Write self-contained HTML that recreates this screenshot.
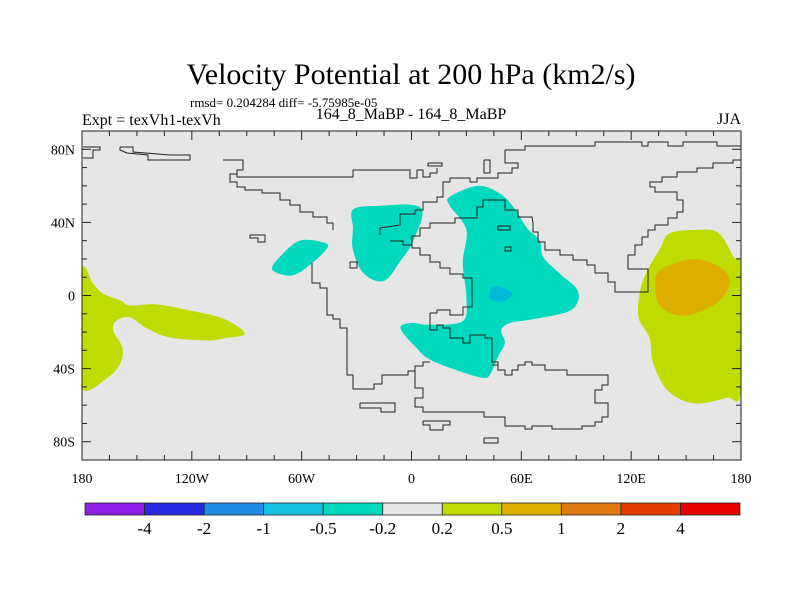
<!DOCTYPE html>
<html><head><meta charset="utf-8"><style>
body{margin:0;background:#fff;width:800px;height:600px;overflow:hidden;font-family:"Liberation Serif",serif}
svg{position:absolute;left:0;top:0}
</style></head><body>
<svg id="chart" width="800" height="600" xmlns="http://www.w3.org/2000/svg">
<text x="411" y="84" font-size="30" text-anchor="middle" font-family="Liberation Serif,serif">Velocity Potential at 200 hPa (km2/s)</text>
<text x="190" y="107" font-size="13" font-family="Liberation Serif,serif">rmsd= 0.204284 diff= -5.75985e-05</text>
<text x="82" y="125" font-size="16" font-family="Liberation Serif,serif">Expt = texVh1-texVh</text>
<text x="411" y="119" font-size="16" text-anchor="middle" font-family="Liberation Serif,serif">164_8_MaBP - 164_8_MaBP</text>
<text x="741" y="124" font-size="16" text-anchor="end" font-family="Liberation Serif,serif">JJA</text>
<rect x="82" y="131" width="659" height="329" fill="#e6e6e6"/>
<g id="fills"></g><g id="coast"></g><g id="axes"></g><g id="cbar"></g>
</svg>
<script>
// filled contour regions as [lon, lat] pairs
const tealMain=[[21,54],[36,60],[48,56],[56,48],[63,37],[70,30],[72,21],[81,12],[90,4],[91,-3],[85,-9],[66,-13],[54,-15],[49,-19],[51,-26],[47,-34],[43,-43],[39,-45],[25,-41],[10,-35],[3,-29],[-6,-18],[0,-15],[10,-16],[28,-14],[30,-1],[28,18],[30,36],[21,49]];
const tealMid=[[-32,47],[-19,49],[5,48],[1,30],[-6,19],[-15,8],[-26,12],[-32,25],[-32,37]];
const tealSmall=[[-61,30],[-48,29],[-46,26],[-54,18],[-65,11],[-76,14],[-72,21]];
const blueCore=[[45,5],[51,4],[55,1],[51,-3],[45,-3],[42,0]];
const yellowEast=[[141,34],[157,36],[168,34],[176,21],[180,14],[180,-52],[172,-56],[154,-59],[140,-52],[132,-37],[130,-23],[124,-12],[125,3],[129,14],[136,26]];
const orangeEast=[[136,14],[154,20],[169,15],[174,7],[167,-4],[150,-11],[137,-7],[133,4]];
const yellowWest=[[-180,15],[-174,6.6],[-168.5,1],[-159,-2.7],[-153.8,-5.5],[-139,-4.9],[-121,-8.2],[-103,-12.6],[-91,-20.8],[-103,-23.5],[-112,-24.6],[-132,-23],[-144.5,-18],[-153.8,-12],[-161,-13.7],[-163,-19],[-158,-28.4],[-159,-37],[-166,-44.9],[-180,-51],[-185,-20]];
const levels=["-4","-2","-1","-0.5","-0.2","0.2","0.5","1","2","4"];
const cbColors=["#8c1ee6","#2a2ae0","#1e8ce6","#14c2e0","#00d9bd","#e6e6e6","#bedc00","#e0b000","#e07a10","#e63c00","#e60000"];
const lonTicks=[-180,-120,-60,0,60,120,180];
const lonLabels=["180","120W","60W","0","60E","120E","180"];
const latTicks=[80,40,0,-40,-80];
const latLabels=["80N","40N","0","40S","80S"];

const X0=82,X1=741,Y0=131,Y1=460;
const xs=lon=>X0+(lon+180)/360*(X1-X0);
const ys=lat=>Y0+(90-lat)/180*(Y1-Y0);
const NS="http://www.w3.org/2000/svg";
function smooth(pts){const p=pts.map(d=>[xs(d[0]),ys(d[1])]);const n=p.length;let s=`M${p[0][0]},${p[0][1]}`;
 for(let i=0;i<n;i++){const a=p[(i-1+n)%n],b=p[i],c=p[(i+1)%n],d=p[(i+2)%n];
 s+=`C${b[0]+(c[0]-a[0])/6},${b[1]+(c[1]-a[1])/6} ${c[0]-(d[0]-b[0])/6},${c[1]-(d[1]-b[1])/6} ${c[0]},${c[1]}`;}return s+"Z";}
const fills=document.getElementById('fills');
function addFill(pts,col,name){const e=document.createElementNS(NS,'path');e.setAttribute('d',smooth(pts));e.setAttribute('fill',col);


fills.appendChild(e);}
const clip=document.createElementNS(NS,'clipPath');clip.id='mc';const cr=document.createElementNS(NS,'rect');
cr.setAttribute('x',X0);cr.setAttribute('y',Y0);cr.setAttribute('width',X1-X0);cr.setAttribute('height',Y1-Y0);clip.appendChild(cr);
document.getElementById('chart').appendChild(clip);fills.setAttribute('clip-path','url(#mc)');
addFill(yellowWest,"#bedc00","positive-region-west");
addFill(yellowEast,"#bedc00","positive-region-east");
addFill(orangeEast,"#ddb000","strong-positive-region-east");
addFill(tealMain,"#00d9bd","negative-region-africa");
addFill(tealMid,"#00d9bd","negative-region-central");
addFill(tealSmall,"#00d9bd","negative-region-small");
addFill(blueCore,"#00b9d9","strong-negative-core");

// basemap coastlines (pixel geometry, not data)
const coastLines=[
[[83,147],[100,147],[100,150],[93,150],[93,158],[83,158]],
[[120,147],[133,147],[133,152],[170,155],[190,155],[190,160],[148,160],[148,155],[127,153],[120,150],[120,147]],
[[223,160],[243,160],[243,170],[237,170],[237,174],[230,174],[230,182],[237,182],[237,187],[245,187],[245,190],[262,190],[262,193],[280,193],[280,200],[290,200],[290,205],[300,205],[300,212],[313,212],[313,217],[327,217],[327,223],[333,223],[333,230]],
[[237,174],[237,177],[353,177],[353,170],[410,170],[410,178],[417,178],[417,170],[423,170],[423,177],[430,177],[430,173],[437,173],[437,168]],
[[505,150],[525,150],[525,146],[595,146],[595,142],[642,142],[642,146],[648,146],[648,142],[668,142],[668,146],[683,146],[683,142],[717,142],[717,146],[741,146]],
[[505,150],[505,163],[518,163],[518,168],[512,168],[512,173],[498,173],[498,178],[477,178],[477,182],[470,182],[470,178],[450,178],[450,182],[443,182],[443,197],[437,197],[437,202],[423,202],[423,210],[415,210],[415,214],[400,214],[400,225],[380,228],[380,235]],
[[741,160],[733,160],[733,163],[713,163],[713,168],[697,168],[697,172],[677,172],[677,177],[662,177],[662,182],[650,182],[650,187],[655,187],[655,192],[677,192],[677,200],[683,200],[683,212],[677,212],[677,218],[668,218],[668,225],[655,225],[655,230],[648,230],[648,237],[642,237],[642,245],[635,245],[635,255],[628,255],[628,269],[648,269],[648,292],[615,292],[615,282],[608,282],[608,273],[595,273],[595,265],[587,265],[587,260],[573,260],[573,255],[560,255],[560,250],[545,250],[545,242],[538,242],[538,232],[533,232],[533,223],[532,217],[518,217],[518,210],[505,210],[505,200],[483,200],[483,207],[477,207],[477,218],[455,218],[455,223],[430,223],[430,228],[420,228],[420,236],[412,236],[412,245],[403,245],[403,241],[390,241]],
[[312,263],[312,283],[320,283],[320,288],[327,288],[327,315],[333,315],[333,319],[340,319],[340,328],[347,328],[347,375],[353,375],[353,389],[374,389],[374,384],[382,384],[382,375],[408,375],[408,371],[415,371],[415,366],[423,366],[423,362],[430,362]],
[[430,313],[430,330],[437,330],[437,325],[443,325],[443,328],[450,328],[450,338],[463,338],[463,343],[470,343],[470,335],[485,335],[485,338],[492,338],[492,362],[498,362],[498,365]],
[[430,313],[437,313],[437,310],[450,310],[450,315],[463,315],[463,307],[472,307],[472,278],[463,278],[463,274],[450,274],[450,268],[440,268],[440,262],[430,262],[430,255],[420,255],[420,248],[412,248],[412,245]],
[[415,366],[415,388],[423,388],[423,398],[415,398],[415,407],[423,407],[423,412],[429,412],[484,412],[484,417],[505,417],[505,426],[525,426],[525,429],[532,429],[532,426],[552,426],[552,429],[582,429],[582,426],[595,426],[595,422],[602,422],[602,417],[608,417],[608,403],[595,403],[595,390],[602,390],[602,385],[608,385],[608,375],[567,375],[567,370],[545,370],[545,365],[532,365],[532,362],[525,362],[525,365],[518,365],[518,370],[512,370],[512,375],[505,375],[505,370],[498,370],[498,365],[492,365]],
[[360,403],[395,403],[395,412],[381,412],[381,408],[360,408],[360,403]],
[[423,421],[450,421],[450,425],[443,425],[443,430],[430,430],[430,425],[423,425],[423,421]],
[[484,438],[498,438],[498,443],[484,443],[484,438]],
[[250,235],[265,235],[265,242],[258,242],[258,238],[250,238],[250,235]],
[[428,163],[442,163],[442,166],[428,166],[428,163]],
[[484,160],[490,160],[490,173],[484,173],[484,160]],
[[498,226],[510,226],[510,230],[498,230],[498,226]],
[[505,247],[511,247],[511,251],[505,251],[505,247]],
[[350,262],[357,262],[357,268],[350,268],[350,262]]
];
const coast=document.getElementById('coast');
coastLines.forEach(l=>{const e=document.createElementNS(NS,'polyline');e.setAttribute('points',l.map(p=>p.join(',')).join(' '));
e.setAttribute('fill','none');e.setAttribute('stroke','#222');e.setAttribute('stroke-width','1');


coast.appendChild(e);});

const ax=document.getElementById('axes');
function line(x1,y1,x2,y2,w){const e=document.createElementNS(NS,'line');e.setAttribute('x1',x1);e.setAttribute('y1',y1);e.setAttribute('x2',x2);e.setAttribute('y2',y2);e.setAttribute('stroke','#222');e.setAttribute('stroke-width',w||1);ax.appendChild(e);return e;}
function txt(x,y,s,anchor,size,name){const e=document.createElementNS(NS,'text');e.setAttribute('x',x);e.setAttribute('y',y);e.setAttribute('text-anchor',anchor);e.setAttribute('font-size',size);e.textContent=s;


return e;}
const fr=document.createElementNS(NS,'rect');fr.setAttribute('x',X0);fr.setAttribute('y',Y0);fr.setAttribute('width',X1-X0);fr.setAttribute('height',Y1-Y0);fr.setAttribute('fill','none');fr.setAttribute('stroke','#222');


ax.appendChild(fr);
for(let lon=-180;lon<=180;lon+=15){const maj=lon%60===0;const L=maj?9:5;line(xs(lon),Y1,xs(lon),Y1-L);line(xs(lon),Y0,xs(lon),Y0+L);}
for(let lat=-90;lat<=90;lat+=10){const maj=latTicks.includes(lat);const L=maj?9:5;line(X0,ys(lat),X0+L,ys(lat));line(X1,ys(lat),X1-L,ys(lat));}
lonTicks.forEach((v,i)=>ax.appendChild(txt(xs(v),483,lonLabels[i],'middle',14,'x-tick-label')));
latTicks.forEach((v,i)=>ax.appendChild(txt(75,ys(v)+5,latLabels[i],'end',14,'y-tick-label')));

const cb=document.getElementById('cbar');const CX=85,CW=655,CY=503,CH=12,bw=CW/cbColors.length;
cbColors.forEach((c,i)=>{const r=document.createElementNS(NS,'rect');r.setAttribute('x',CX+i*bw);r.setAttribute('y',CY);r.setAttribute('width',bw);r.setAttribute('height',CH);r.setAttribute('fill',c);r.setAttribute('stroke','#222');r.setAttribute('stroke-width','0.8');


cb.appendChild(r);});
levels.forEach((s,i)=>cb.appendChild(txt(CX+(i+1)*bw,534,s,'middle',17,'colorbar-label')));
</script>
</body></html>
